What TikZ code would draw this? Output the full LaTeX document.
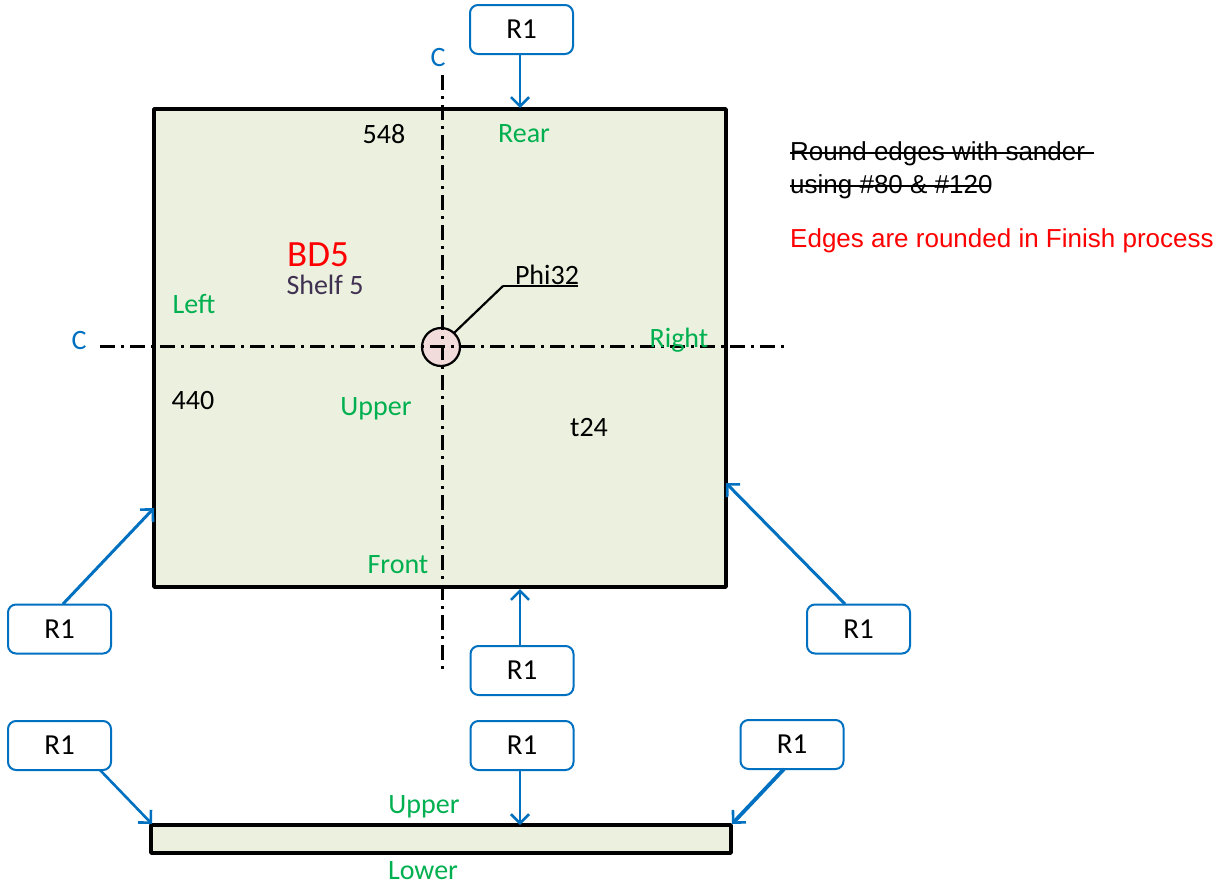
\documentclass[tikz,border=0pt]{standalone}
\usepackage{fontspec}
\setmainfont{Carlito}
\newfontfamily\notefont{Liberation Sans}
\usetikzlibrary{arrows.meta}
\definecolor{bluec}{HTML}{0070C0}
\definecolor{greenc}{HTML}{00B050}
\definecolor{fillc}{HTML}{EBF1DE}
\definecolor{pinkc}{HTML}{F2DCDB}
\definecolor{shelfc}{HTML}{403152}
\tikzset{
  x=1pt,y=-1pt,
  rbox/.style={draw=bluec,line width=2pt,fill=white,rounded corners=8pt,minimum width=103pt,minimum height=49pt,inner sep=0pt,font=\fontsize{29}{29}\selectfont,text=black},
  rarrow/.style={draw=bluec,line width=2.6pt,-{Straight Barb[length=9pt,width=18pt,line width=2.6pt]},shorten >=0pt},
  board/.style={draw=black,line width=3.6pt,fill=fillc,inner sep=0pt,line join=round},
  center line/.style={draw=black,line width=3pt,dash pattern=on 15pt off 6pt on 3pt off 6pt},
  greenlab/.style={text=greenc,font=\fontsize{28}{28}\selectfont,inner sep=0pt},
  blacklab/.style={text=black,font=\fontsize{28}{28}\selectfont,inner sep=0pt},
  bluelab/.style={text=bluec,font=\fontsize{28}{28}\selectfont,inner sep=0pt},
  note/.style={anchor=west,inner sep=0pt,font=\notefont\fontsize{26}{26}\selectfont},
  strike/.style={draw=black,line width=2.2pt},
  leader/.style={draw=black,line width=2.2pt},
}
\begin{document}
\begin{tikzpicture}
\useasboundingbox (0,0) rectangle (1227,886);
% boards
\node[board,minimum width=572pt,minimum height=478pt] (main) at (440,348) {};
\node[board,minimum width=580pt,minimum height=28pt] (side) at (441,839) {};
% centre lines
\coordinate (vt) at (442,75);
\coordinate (vb) at (442,670);
\coordinate (hl) at (100,346);
\coordinate (hr) at (785,346);
\node[draw=black,line width=2.2pt,fill=pinkc,circle,minimum size=38pt,inner sep=0pt] (hole) at (441,347) {};
\draw[center line] (vt) -- (vb);
\draw[center line] (hl) -- (hr);
% leader
\coordinate (lk) at (503,286);
\coordinate (le) at (578,286);
\coordinate (ls) at (454,333);
\draw[leader] (ls) -- (lk);
\draw[leader,line width=2.8pt] (lk) -- (le);
\node[blacklab] (phi) at (547,275) {Phi32};
% boxes
\node[rbox] (r1) at (521.5,29.5) {R1};
\node[rbox] (r2) at (59.5,629) {R1};
\node[rbox] (r3) at (858.5,629) {R1};
\node[rbox] (r4) at (522,670.5) {R1};
\node[rbox] (r5) at (59.5,745.5) {R1};
\node[rbox] (r6) at (522,745.5) {R1};
\node[rbox] (r7) at (792,744.5) {R1};
% arrow targets
\coordinate (t1) at (520,108);
\coordinate (t2) at (154,508);
\coordinate (t3) at (726,483);
\coordinate (t4) at (520,589);
\coordinate (t5) at (152,824);
\coordinate (t6) at (520,825);
\coordinate (t7) at (732,824);
\coordinate (s1) at (520,54);
\coordinate (s2) at (63,604);
\coordinate (s3) at (845,604);
\coordinate (s4) at (520,646);
\coordinate (s5) at (100,770);
\coordinate (s6) at (520,770);
\coordinate (s7) at (784,769);
\draw[rarrow] (s1) -- (t1);
\draw[rarrow,line width=3pt] (s2) -- (t2);
\draw[rarrow,line width=3pt] (s3) -- (t3);
\draw[rarrow] (s4) -- (t4);
\draw[rarrow] (s5) -- (t5);
\draw[rarrow] (s6) -- (t6);
\draw[rarrow,line width=3.8pt] (s7) -- (t7);
% labels
\node[bluelab] (c1) at (438,58) {C};
\node[bluelab] (c2) at (79,341) {C};
\node[blacklab] (w) at (384,134) {548};
\node[greenlab] (rear) at (524,134) {Rear};
\node[text=red,font=\fontsize{37}{37}\selectfont,inner sep=0pt] (bd) at (318,255) {BD5};
\node[text=shelfc,font=\fontsize{28}{28}\selectfont,inner sep=0pt] (sh) at (325,285) {Shelf 5};
\node[greenlab] (left) at (194,304) {Left};
\node[greenlab] (right) at (679,340) {Right};
\node[blacklab] (h) at (193,401) {440};
\node[greenlab] (upper) at (376,409) {Upper};
\node[blacklab] (t) at (589,428) {t24};
\node[greenlab] (front) at (398,565) {Front};
\node[greenlab] (up2) at (424,807) {Upper};
\node[greenlab] (low) at (423,871) {Lower};
% notes
\node[note] (n1) at (790,154) {Round edges with sander};
\node[note] (n2) at (790,187) {using \#80 \& \#120};
\node[note,text=red] (n3) at (790,241) {Edges are rounded in Finish process};
\coordinate (a1) at (790,153);
\coordinate (a2) at (1094,153);
\coordinate (b1) at (790,186);
\coordinate (b2) at (991,186);
\draw[strike] (a1) -- (a2);
\draw[strike] (b1) -- (b2);
\end{tikzpicture}
\end{document}
